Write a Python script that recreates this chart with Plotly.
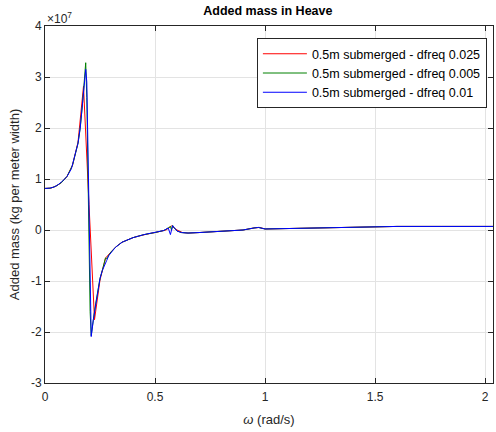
import plotly.graph_objects as go

# Values in units of 1e7 kg per meter width
omega_red = [0, 0.025, 0.05, 0.075, 0.1, 0.125, 0.15, 0.175, 0.2, 0.225, 0.25, 0.275,
             0.3, 0.325, 0.35, 0.375, 0.4, 0.425, 0.45, 0.475, 0.5, 0.525, 0.55, 0.575,
             0.6, 0.625, 0.65, 0.7, 0.8, 0.9, 0.95, 0.975, 1.0, 1.1, 1.2, 1.4, 1.6, 1.8, 2.05]
mass_red = [0.815, 0.82, 0.86, 0.93, 1.05, 1.27, 1.72, 2.82, 0.5, -1.76, -0.98, -0.55,
            -0.43, -0.32, -0.24, -0.19, -0.15, -0.12, -0.09, -0.07, -0.05, -0.03, 0.0, 0.08,
            0.0, -0.05, -0.06, -0.05, -0.03, 0.0, 0.04, 0.05, 0.02, 0.03, 0.04, 0.05, 0.07, 0.07, 0.07]

omega_green = [0, 0.025, 0.05, 0.075, 0.1, 0.125, 0.15, 0.16, 0.17, 0.175, 0.18, 0.185,
               0.19, 0.195, 0.2, 0.205, 0.21, 0.215, 0.22, 0.23, 0.24, 0.25, 0.26, 0.27,
               0.275, 0.28, 0.29, 0.3, 0.32, 0.35, 0.4, 0.45, 0.5, 0.54, 0.56, 0.57, 0.575,
               0.58, 0.585, 0.59, 0.6, 0.62, 0.65, 0.7, 0.8, 0.9, 0.95, 0.97, 1.0, 1.1, 1.2,
               1.4, 1.6, 1.8, 2.05]
mass_green = [0.815, 0.82, 0.86, 0.93, 1.05, 1.27, 1.7, 2.0, 2.45, 2.8, 3.1, 3.28,
              2.6, 1.2, -0.3, -1.6, -2.07, -1.95, -1.75, -1.45, -1.15, -0.95, -0.8, -0.65,
              -0.55, -0.56, -0.48, -0.43, -0.34, -0.24, -0.15, -0.09, -0.05, -0.01, 0.04, 0.07, 0.0,
              0.09, 0.05, 0.03, -0.02, -0.05, -0.06, -0.05, -0.03, 0.0, 0.04, 0.05, 0.02, 0.03, 0.04,
              0.05, 0.07, 0.07, 0.07]

omega_blue = [0, 0.02, 0.04, 0.06, 0.08, 0.1, 0.12, 0.14, 0.15, 0.16, 0.17, 0.18, 0.185,
              0.19, 0.2, 0.21, 0.22, 0.23, 0.24, 0.25, 0.26, 0.27, 0.28, 0.29, 0.3, 0.32,
              0.35, 0.4, 0.45, 0.5, 0.54, 0.56, 0.57, 0.58, 0.59, 0.6, 0.62, 0.65, 0.7, 0.8,
              0.9, 0.95, 0.97, 1.0, 1.1, 1.2, 1.4, 1.6, 1.8, 2.05]
mass_blue = [0.815, 0.82, 0.84, 0.89, 0.96, 1.05, 1.2, 1.5, 1.7, 2.0, 2.45, 3.0, 3.15,
             2.9, 0.4, -2.09, -1.75, -1.45, -1.15, -0.95, -0.8, -0.68, -0.6, -0.5, -0.44, -0.34,
             -0.24, -0.15, -0.09, -0.05, -0.01, 0.04, -0.09, 0.085, 0.02, -0.02, -0.05, -0.06, -0.05, -0.03,
             0.0, 0.04, 0.05, 0.02, 0.03, 0.04, 0.05, 0.07, 0.07, 0.07]

series_names = ["0.5m submerged - dfreq 0.025", "0.5m submerged - dfreq 0.005",
                "0.5m submerged - dfreq 0.01"]
series_colors = ["#ff0000", "#008000", "#0000ff"]

x_ticks = [0, 0.5, 1, 1.5, 2]
x_tick_labels = ["0", "0.5", "1", "1.5", "2"]
y_ticks = [-3, -2, -1, 0, 1, 2, 3, 4]
y_tick_labels = ["-3", "-2", "-1", "0", "1", "2", "3", "4"]

fig = go.Figure()
for xs, ys, name, col in zip([omega_red, omega_green, omega_blue],
                             [mass_red, mass_green, mass_blue],
                             series_names, series_colors):
    fig.add_trace(go.Scatter(x=xs, y=ys, mode="lines", name=name,
                             line=dict(color=col, width=1)))

axis_common = dict(showline=True, linecolor="#262626", linewidth=1, mirror="allticks",
                   ticks="inside", ticklen=5, tickcolor="#262626",
                   showgrid=True, gridcolor="#e3e3e3", gridwidth=1, zeroline=False,
                   tickfont=dict(family="Liberation Sans, Arial", size=12, color="#262626"))

fig.update_layout(
    width=496, height=432,
    margin=dict(l=45, r=3, t=26, b=49),
    paper_bgcolor="white", plot_bgcolor="white",
    font=dict(family="Liberation Sans, Arial", size=12, color="#262626"),
    title=dict(text="<b>Added mass in Heave</b>", x=0.54, xanchor="center",
               y=0.985, yanchor="top", font=dict(size=12.5, color="black")),
    xaxis=dict(range=[0, 2.036], tickvals=x_ticks, ticktext=x_tick_labels,
               ticklabelstandoff=3,
               title=dict(text="<i>ω</i> (rad/s)", font=dict(size=13), standoff=11),
               **axis_common),
    yaxis=dict(range=[-3, 4], tickvals=y_ticks, ticktext=y_tick_labels,
               title=dict(text="Added mass (kg per meter width)", font=dict(size=13), standoff=8),
               **axis_common),
    legend=dict(x=0.473, y=0.966, xanchor="left", yanchor="top",
                bgcolor="white", bordercolor="#262626", borderwidth=1,
                itemwidth=44,
                font=dict(size=12.5, color="black"), tracegroupgap=0),
    showlegend=True,
)
fig.add_annotation(text="×10<sup>7</sup>", xref="paper", yref="paper", x=0, y=1,
                   xanchor="left", yanchor="bottom", showarrow=False,
                   font=dict(size=12, color="#262626"), yshift=-2)

fig.write_html("out.html")
